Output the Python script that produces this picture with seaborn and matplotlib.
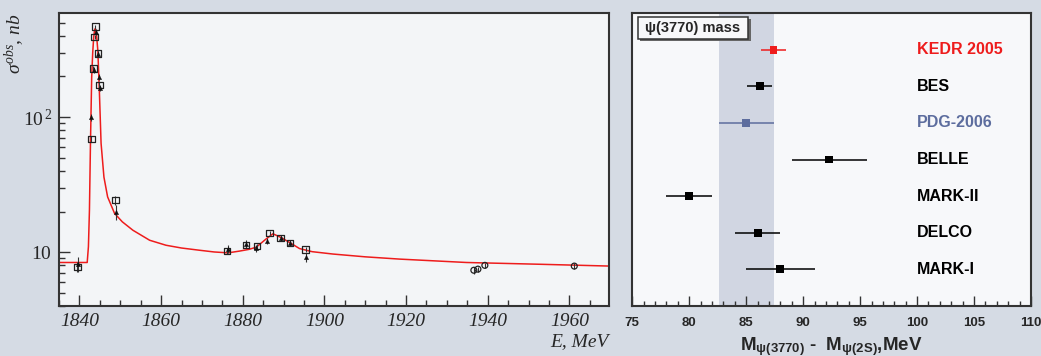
import numpy as np
import pandas as pd
import matplotlib
matplotlib.use('Agg')
import matplotlib.pyplot as plt
import matplotlib.ticker as mticker
from matplotlib.patches import Rectangle
import seaborn as sns

# ---- left panel: cross section scan ----
e_scan1 = [1839.5, 1842.9, 1843.4, 1843.75, 1843.9, 1844.5, 1844.9, 1848.8,
           1876.2, 1880.8, 1883.5, 1886.6, 1889.3, 1891.6, 1895.4]
sig_scan1 = [7.8, 69, 229, 393, 467, 296, 173, 24.3,
             10.2, 11.3, 11.1, 13.9, 12.7, 11.7, 10.5]
err_scan1 = [0.6, 4, 10, 15, 18, 12, 9, 2.0, 0.5, 0.5, 0.5, 0.5, 0.5, 0.5, 0.5]

e_scan2 = [1839.6, 1842.9, 1843.45, 1843.95, 1844.55, 1844.9, 1845.1, 1848.9,
           1876.4, 1880.8, 1883.2, 1886.0, 1889.3, 1891.5, 1895.4]
sig_scan2 = [8.2, 100, 223, 428, 293, 199, 164, 19.9,
             10.6, 11.6, 10.7, 12.1, 12.7, 11.7, 9.2]
err_scan2 = [1.0, 6, 12, 20, 14, 10, 9, 2.6, 0.7, 0.8, 0.6, 0.6, 0.6, 0.6, 0.7]

e_scan3 = [1936.6, 1937.6, 1939.3, 1961.2]
sig_scan3 = [7.36, 7.5, 8.0, 7.9]
err_scan3 = [0.4, 0.3, 0.35, 0.4]

fit_e = [1835, 1841.9, 1842.2, 1842.45, 1842.7, 1843.0, 1843.25, 1843.5, 1843.7,
         1843.9, 1844.2, 1844.5, 1844.9, 1845.3, 1846.0, 1846.9, 1848.6, 1850.5,
         1853.1, 1857.2, 1861.2, 1865.0, 1869.4, 1873.0, 1876.4, 1879.2, 1881.5,
         1883.3, 1885.8, 1887.4, 1889.4, 1891.9, 1893.9, 1897.0, 1902.1, 1910.0,
         1918.4, 1934.8, 1952.7, 1970]
fit_sig = [8.4, 8.4, 11, 20.5, 63.9, 198, 300, 393, 440,
           453, 400, 313, 150, 64, 36, 25.7, 19.4, 16.8,
           14.55, 12.27, 11.27, 10.75, 10.35, 10.05, 9.9, 10.2, 10.5,
           10.9, 12.6, 13.7, 12.85, 11.6, 10.65, 10.1, 9.7, 9.25,
           8.9, 8.4, 8.15, 7.9]

# ---- right panel: mass difference ----
experiments = ['KEDR 2005', 'BES', 'PDG-2006', 'BELLE', 'MARK-II', 'DELCO', 'MARK-I']
delta_m = [87.4, 86.2, 85.0, 92.3, 80.0, 86.0, 88.0]
delta_m_err = [1.1, 1.1, 2.4, 3.3, 2.0, 2.0, 3.0]
exp_colors = ['#ee1c1c', 'black', '#5d6d9e', 'black', 'black', 'black', 'black']
pdg_band = (82.6, 87.45)

sns.set_style('white')
plt.rcParams['mathtext.fontset'] = 'custom'
plt.rcParams['mathtext.rm'] = 'Liberation Serif'
plt.rcParams['mathtext.it'] = 'Liberation Serif:italic'
plt.rcParams['mathtext.bf'] = 'Liberation Sans:bold'

bg = '#d5dbe4'
fig = plt.figure(figsize=(10.41, 3.56), dpi=100, facecolor=bg)
ax1 = fig.add_axes([0.0567, 0.1404, 0.5283, 0.823])
ax2 = fig.add_axes([0.6074, 0.1404, 0.3830, 0.823])

serif = ['Liberation Serif', 'DejaVu Serif']
sans = ['Liberation Sans', 'DejaVu Sans']

# left
ax1.set_facecolor('#f3f5f7')
sns.lineplot(x=fit_e, y=fit_sig, color='#ee1c1c', lw=1.1, ax=ax1, zorder=2)
ax1.errorbar(e_scan1, sig_scan1, yerr=err_scan1, fmt='none', ecolor='#333', elinewidth=0.8, zorder=3)
ax1.errorbar(e_scan2, sig_scan2, yerr=err_scan2, fmt='none', ecolor='#333', elinewidth=0.8, zorder=3)
ax1.errorbar(e_scan3, sig_scan3, yerr=err_scan3, fmt='none', ecolor='#333', elinewidth=0.8, zorder=3)
sns.scatterplot(x=e_scan1, y=sig_scan1, marker='s', s=22, facecolor='none',
                edgecolor='#222', linewidth=0.9, ax=ax1, zorder=4)
sns.scatterplot(x=e_scan2, y=sig_scan2, marker='^', s=10, color='#111',
                edgecolor='#111', ax=ax1, zorder=4)
sns.scatterplot(x=e_scan3, y=sig_scan3, marker='o', s=18, facecolor='none',
                edgecolor='#222', linewidth=0.9, ax=ax1, zorder=4)
ax1.set_yscale('log')
ax1.set_xlim(1835, 1969.7)
ax1.set_ylim(4, 590)
ax1.yaxis.set_major_locator(mticker.FixedLocator([10, 100]))
ax1.yaxis.set_major_formatter(mticker.FixedFormatter([r'$\mathit{10}$', r'$\mathit{10}^{\,\mathit{2}}$']))
ax1.yaxis.set_minor_locator(mticker.LogLocator(base=10, subs=np.arange(2, 10)))
ax1.yaxis.set_minor_formatter(mticker.NullFormatter())
ax1.xaxis.set_major_locator(mticker.MultipleLocator(20))
ax1.xaxis.set_minor_locator(mticker.MultipleLocator(5))
ax1.tick_params(which='both', direction='in', left=True, bottom=True, color='#333')
ax1.tick_params(which='major', length=8, width=1, pad=5)
ax1.tick_params(which='minor', length=4, width=1)
for lab in ax1.get_xticklabels() + ax1.get_yticklabels():
    lab.set_family(serif)
    lab.set_style('italic')
    lab.set_fontsize(14)
ax1.set_xlabel('E, MeV', family=serif, style='italic', fontsize=14, loc='right', labelpad=2)
ax1.set_ylabel(r'$\sigma^{obs}$, nb', family=serif, style='italic', fontsize=14, loc='top')
ax1.yaxis.set_label_coords(-0.058, 1.0)

# right
ax2.set_facecolor('#f7f8fa')
ax2.axvspan(*pdg_band, color='#d1d6e2', zorder=0, lw=0)
df = pd.DataFrame({'exp': experiments, 'dm': delta_m, 'err': delta_m_err,
                   'pos': np.arange(len(experiments))})
pal = dict(zip(experiments, exp_colors))
for _, row in df.iterrows():
    ax2.errorbar(row['dm'], row['pos'], xerr=row['err'], fmt='none',
                 ecolor=pal[row['exp']], elinewidth=1.1, zorder=3)
    ax2.text(100, row['pos'], row['exp'], color=pal[row['exp']], va='center', ha='left',
             fontsize=11.5, fontweight='bold', family=sans)
sns.scatterplot(data=df, x='dm', y='pos', hue='exp', palette=pal, marker='s', s=32,
                edgecolor='none', legend=False, ax=ax2, zorder=4)
ax2.set_xlim(75, 110)
ax2.set_ylim(7, -1)
ax2.set_yticks([])
ax2.set_ylabel('')
ax2.xaxis.set_major_locator(mticker.MultipleLocator(5))
ax2.xaxis.set_minor_locator(mticker.MultipleLocator(1))
ax2.tick_params(which='both', direction='in', bottom=True, color='#333')
ax2.tick_params(which='major', length=7, width=1, pad=8)
ax2.tick_params(which='minor', length=3.5, width=1)
for lab in ax2.get_xticklabels():
    lab.set_family(sans)
    lab.set_fontweight('bold')
    lab.set_fontsize(9.5)
ax2.set_xlabel(r'$\mathbf{M}_{\mathbf{\psi(3770)}}$ -  $\mathbf{M}_{\mathbf{\psi(2S)}}$,MeV',
               family=sans, fontweight='bold', fontsize=13.5, labelpad=4)

# title box with shadow
ax2.add_patch(Rectangle((0.020, 0.905), 0.277, 0.074, transform=ax2.transAxes,
                        fc='#666666', ec='none', zorder=5))
ax2.add_patch(Rectangle((0.014, 0.913), 0.277, 0.074, transform=ax2.transAxes,
                        fc='#f7f8fa', ec='#333', lw=1.1, zorder=6))
ax2.text(0.152, 0.950, 'ψ(3770) mass', transform=ax2.transAxes, ha='center', va='center',
         fontsize=10.5, fontweight='bold', family=sans, zorder=7)

for ax in (ax1, ax2):
    for sp in ax.spines.values():
        sp.set_visible(True)
        sp.set_color('#333333')
        sp.set_linewidth(1.5)

fig.savefig('out.png', dpi=100, facecolor=bg)
